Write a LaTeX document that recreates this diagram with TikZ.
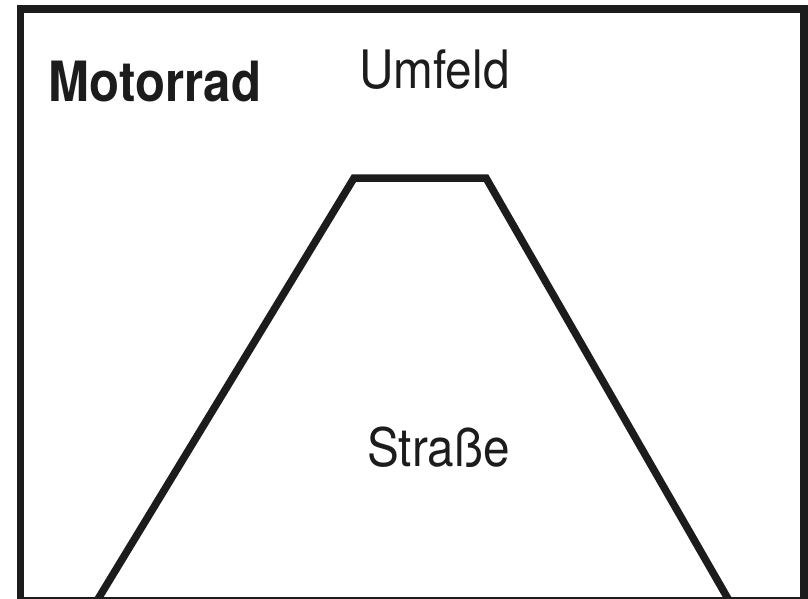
\documentclass[tikz,border=0pt]{standalone}
\usepackage{fontspec}
\setmainfont{TeX Gyre Heros}
\definecolor{ink}{HTML}{1C1C1C}
\begin{document}
\begin{tikzpicture}[x=1pt,y=-1pt,
  frame/.style={draw=ink,line width=7.5pt},
  road/.style={draw=ink,line width=7.5pt,line join=miter},
  textbase/.style={text=ink,inner sep=0pt,anchor=base},
  label/.style={textbase,font=\fontsize{53}{60}\selectfont,xscale=0.9},
  boldlabel/.style={textbase,font=\fontsize{55.5}{62}\selectfont\bfseries,xscale=0.885}]
  \useasboundingbox (0,0) rectangle (808,599);
  % outer frame
  \draw[frame] (20.5,9) rectangle (804,601);
  % road outline
  \coordinate (bl) at (95,604);
  \coordinate (tl) at (354,178);
  \coordinate (tr) at (486,178);
  \coordinate (br) at (731,604);
  \draw[road] (bl) -- (tl) -- (tr) -- (br);
  % labels
  \node[boldlabel] (motorrad) at (155,102) {Motorrad};
  \node[label] (umfeld) at (434.5,88.3) {Umfeld};
  \node[label] (strasse) at (438.5,466.7) {Straße};
\end{tikzpicture}
\end{document}
